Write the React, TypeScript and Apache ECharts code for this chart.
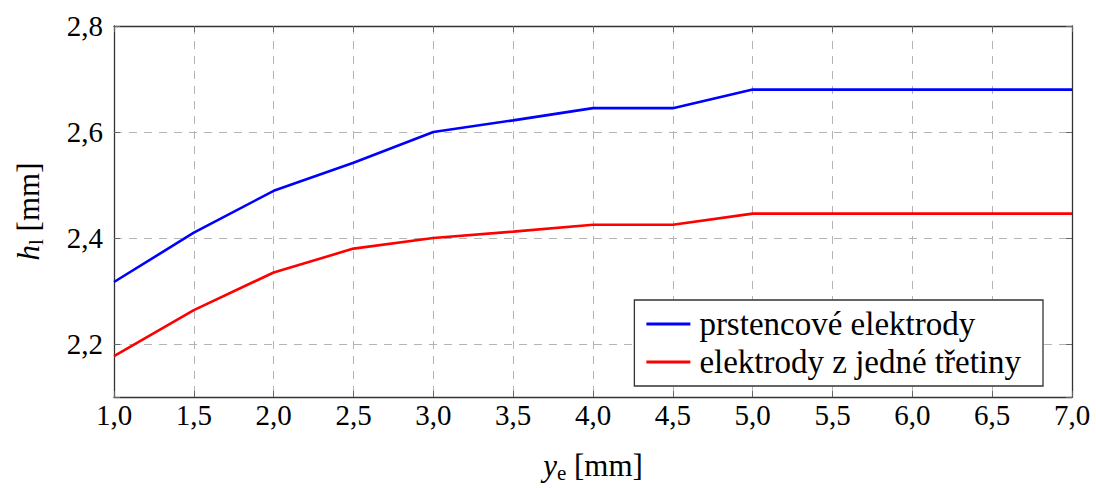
import React, { useEffect, useRef } from "react";
import * as echarts from "echarts";

const xValues = [1.0, 1.5, 2.0, 2.5, 3.0, 3.5, 4.0, 4.5, 5.0, 5.5, 6.0, 6.5, 7.0];
const ringValues = [2.317, 2.41, 2.489, 2.542, 2.6, 2.622, 2.645, 2.645, 2.68, 2.68, 2.68, 2.68, 2.68];
const thirdValues = [2.177, 2.264, 2.335, 2.38, 2.4, 2.412, 2.425, 2.425, 2.446, 2.446, 2.446, 2.446, 2.446];
const seriesNames = ["prstencové elektrody", "elektrody z jedné třetiny"];
const yTickLabels = [2.2, 2.4, 2.6, 2.8];

const FONT = "Liberation Serif";
const fmt = (v: number) => v.toFixed(1).replace(".", ",");

export default function App() {
  const ref = useRef<HTMLDivElement>(null);
  useEffect(() => {
    document.body.style.margin = "0";
    const chart = echarts.init(ref.current!, null, { renderer: "svg" });
    const axisLine = { show: true, lineStyle: { color: "#333", width: 1.3 } };
    const tick = { show: true, inside: true, length: 6, lineStyle: { color: "#666", width: 1 } };
    const grid = { show: true, lineStyle: { color: "#b4b4b4", type: [8, 7] as any, width: 1 } };
    const rich = {
      i: { fontFamily: FONT, fontSize: 31, fontStyle: "italic", color: "#000" },
      s: { fontFamily: FONT, fontSize: 21, color: "#000", padding: [15, 0, 0, 0] },
    };
    chart.setOption({
      animation: false,
      backgroundColor: "#fff",
      textStyle: { fontFamily: FONT },
      grid: { left: 114, right: 24, top: 26, bottom: 91 },
      legend: {
        orient: "vertical",
        right: 53,
        top: 300,
        data: seriesNames.map((n) => ({ name: n, icon: "rect" })),
        itemWidth: 44,
        itemHeight: 3,
        itemGap: 4,
        padding: [7, 22, 7, 12],
        borderColor: "#333",
        borderWidth: 1.3,
        backgroundColor: "#fff",
        textStyle: { fontFamily: FONT, fontSize: 33, color: "#000", padding: [0, 0, 0, 4], lineHeight: 34 },
      },
      xAxis: [
        {
          type: "value",
          min: 1,
          max: 7,
          interval: 0.5,
          axisLine,
          axisTick: tick,
          splitLine: grid,
          axisLabel: { formatter: fmt, fontFamily: FONT, fontSize: 29, color: "#000", margin: 3 },
          name: "{i|y}{s|e} [mm]",
          nameLocation: "middle",
          nameGap: 50,
          nameTextStyle: { fontFamily: FONT, fontSize: 31, color: "#000", rich },
        },
        {
          type: "value",
          position: "top",
          min: 1,
          max: 7,
          interval: 0.5,
          axisLine,
          axisTick: tick,
          splitLine: { show: false },
          axisLabel: { show: false },
        },
      ],
      yAxis: [
        {
          type: "value",
          min: 2.1,
          max: 2.8,
          minInterval: 0.2,
          maxInterval: 0.2,
          axisLine,
          axisTick: tick,
          splitLine: grid,
          axisLabel: {
            formatter: (v: number) =>
              yTickLabels.some((t) => Math.abs(t - v) < 1e-6) ? fmt(v) : "",
            fontFamily: FONT,
            fontSize: 29,
            color: "#000",
            margin: 11,
          },
          name: "{i|h}{s|l} [mm]",
          nameLocation: "middle",
          nameGap: 68,
          nameTextStyle: { fontFamily: FONT, fontSize: 31, color: "#000", rich },
        },
        {
          type: "value",
          position: "right",
          min: 2.1,
          max: 2.8,
          minInterval: 0.2,
          maxInterval: 0.2,
          axisLine,
          axisTick: tick,
          splitLine: { show: false },
          axisLabel: { show: false },
        },
      ],
      series: [
        {
          name: seriesNames[0],
          type: "line",
          data: xValues.map((x, i) => [x, ringValues[i]]),
          symbol: "none",
          lineStyle: { color: "#0000ff", width: 2.6 },
          itemStyle: { color: "#0000ff" },
          z: 3,
        },
        {
          name: seriesNames[1],
          type: "line",
          data: xValues.map((x, i) => [x, thirdValues[i]]),
          symbol: "none",
          lineStyle: { color: "#ff0000", width: 2.6 },
          itemStyle: { color: "#ff0000" },
          z: 3,
        },
      ],
    });
    return () => chart.dispose();
  }, []);
  return (
    <div
      ref={ref}
      style={{ position: "fixed", left: 0, top: 0, width: 1096, height: 488 }}
    />
  );
}
